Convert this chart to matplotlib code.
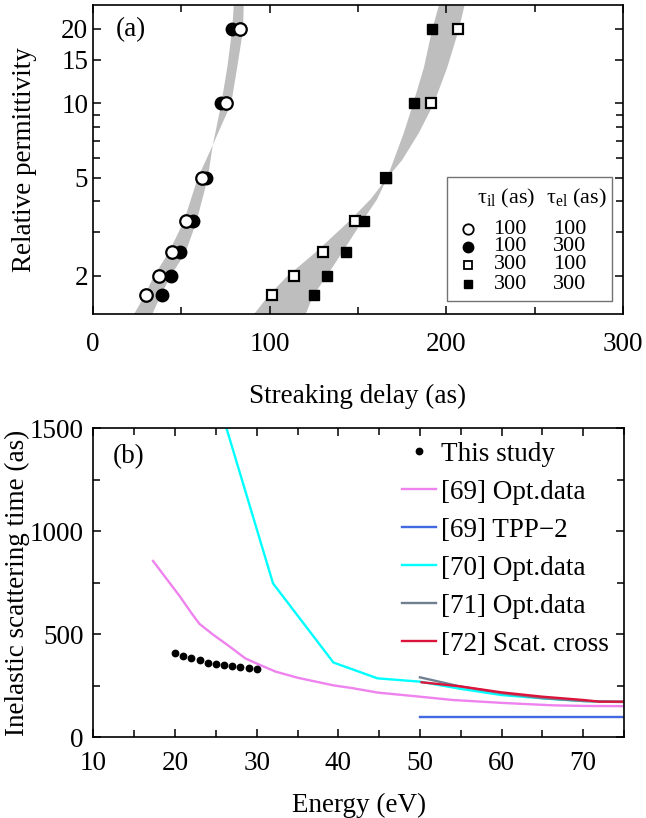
import matplotlib
matplotlib.use("Agg")
import matplotlib.pyplot as plt
import numpy as np
from matplotlib.patches import Rectangle
from matplotlib.ticker import FixedLocator, LogLocator, NullFormatter, FixedFormatter

plt.rcParams["font.family"] = ["Liberation Serif", "DejaVu Serif"]
plt.rcParams["mathtext.fontset"] = "custom"
plt.rcParams["mathtext.rm"] = "Liberation Serif"
plt.rcParams["mathtext.it"] = "Liberation Serif:italic"

# ---------------------------------------------------------------- panel (a) data
eps = [20, 10, 5, 10 / 3, 2.5, 2, 5 / 3]
delay_c_100_100 = [83.2, 75.3, 61.5, 52.6, 44.9, 37.5, 30.0]
delay_c_100_300 = [78.5, 72.3, 64.0, 56.4, 49.4, 44.1, 39.1]
delay_s_300_100 = [206.4, 191.4, 165.8, 148.3, 130.4, 113.9, 101.1]
delay_s_300_300 = [192.1, 181.8, 165.8, 153.4, 143.0, 132.6, 125.1]

# grey bands: edges of the spread between the two model curves
band_c_eps = [1.4, 5 / 3, 2, 2.5, 10 / 3, 5, 5.9, 6.8, 7.9, 10, 14, 20, 25]
band_c_x1 = [22.8, 28.9, 34.1, 42.6, 51.1, 59.0, 63.6, 67.5, 71.5, 77.9, 81.3, 84.7, 85.0]
band_c_x2 = [33.2, 37.9, 43.6, 52.1, 58.3, 64.7, 66.2, 67.5, 69.4, 72.3, 75.7, 78.5, 79.4]
band_s_eps = [1.4, 5 / 3, 2, 2.5, 10 / 3, 4.1, 5, 5.9, 7.6, 10, 14, 20, 25]
band_s_x1 = [90.7, 99.0, 109.6, 125.7, 144.5, 156.8, 166.2, 174.6, 184.1, 192.6, 200.2, 206.8, 210.0]
band_s_x2 = [120.0, 124.3, 131.9, 140.8, 152.0, 160.5, 166.2, 169.9, 175.6, 180.9, 187.0, 191.7, 195.5]

leg_il = ["100", "100", "300", "300"]
leg_el = ["100", "300", "100", "300"]

# ---------------------------------------------------------------- panel (b) data
E_this = [20, 21, 22, 23, 24, 25, 26, 27, 28, 29, 30]
tau_this = [408, 395, 386, 374, 362, 356, 350, 345, 341, 338, 332]

E_69opt = [17.3, 18.9, 20.6, 22.0, 23.0, 24.7, 26.7, 28.6, 30.4, 32.3, 35.0,
           39.4, 41.8, 44.8, 50, 54, 60, 66.3, 70.2, 75]
tau_69opt = [856, 772, 683, 603, 550, 497, 440, 383, 351, 319, 289,
             252, 238, 217, 197, 181, 167, 155, 152, 151]

E_69tpp = [50, 75]
tau_69tpp = [100, 100]

E_70opt = [26.3, 32.0, 39.4, 44.8, 50, 55, 60, 66, 70, 75]
tau_70opt = [1500, 747, 363, 286, 270, 235, 205, 186, 176, 172]

E_71opt = [50, 55, 60, 65, 70, 72, 75]
tau_71opt = [291, 246, 214, 190, 176, 173, 171]

E_72sc = [50.2, 55, 60, 65, 70, 72, 75]
tau_72sc = [267, 247, 218, 197, 181, 173, 173]

BAND = "#bebebe"
FS = 19.5

fig = plt.figure(figsize=(6.46, 8.18), dpi=100)
ax1 = fig.add_axes([0.144, 0.6161, 0.8204, 0.3778])
ax2 = fig.add_axes([0.1447, 0.0987, 0.8212, 0.3777])

for ax in (ax1, ax2):
    ax.tick_params(which="both", direction="in", top=True, right=True,
                   labelsize=FS, width=1.1)
    ax.tick_params(which="major", length=6)
    ax.tick_params(which="minor", length=5)
    for s in ax.spines.values():
        s.set_linewidth(1.2)

# ---------------------------------------------------------------- (a)
ax1.fill_betweenx(band_c_eps, band_c_x1, band_c_x2, color=BAND, lw=0, zorder=1)
ax1.fill_betweenx(band_s_eps, band_s_x1, band_s_x2, color=BAND, lw=0, zorder=1)
ax1.plot(delay_c_100_300, eps, "o", ms=9, mfc="k", mec="k", zorder=3)
ax1.plot(delay_c_100_100, eps, "o", ms=9, mfc="white", mec="k", mew=1.6, zorder=3)
ax1.plot(delay_s_300_100, eps, "s", ms=7, mfc="white", mec="k", mew=1.6, zorder=3)
ax1.plot(delay_s_300_300, eps, "s", ms=7, mfc="k", mec="k", zorder=3)

ax1.set_yscale("log")
ax1.set_xlim(0, 300)
ax1.set_ylim(1.4, 25)
ax1.xaxis.set_major_locator(FixedLocator([0, 100, 200, 300]))
ax1.xaxis.set_minor_locator(FixedLocator([50, 150, 250]))
ax1.yaxis.set_major_locator(FixedLocator([2, 5, 10, 15, 20]))
ax1.yaxis.set_major_formatter(FixedFormatter(["2", "5", "10", "15", "20"]))
ax1.yaxis.set_minor_locator(LogLocator(base=10, subs=np.arange(1, 10)))
ax1.yaxis.set_minor_formatter(NullFormatter())
ax1.tick_params(axis="x", which="both", pad=13)
ax1.tick_params(axis="y", which="both", pad=3.5)
ax1.set_xlabel("Streaking delay (as)", fontsize=FS, labelpad=19)
ax1.set_ylabel("Relative permittivity", fontsize=FS, labelpad=17)
ax1.text(0.042, 0.92, "(a)", transform=ax1.transAxes, fontsize=FS, va="center")

# hand-built legend box
ax1.add_patch(Rectangle((0.667, 0.042), 0.313, 0.402, transform=ax1.transAxes,
                        facecolor="white", edgecolor="0.45", lw=1.0, zorder=5))
ax1.text(0.78, 0.374, "τ$_{\\rm il}$ (as)", transform=ax1.transAxes,
         fontsize=16, ha="center", va="center", zorder=6)
ax1.text(0.913, 0.374, "τ$_{\\rm el}$ (as)", transform=ax1.transAxes,
         fontsize=16, ha="center", va="center", zorder=6)
leg_style = [dict(marker="o", ms=7.5, mfc="white", mec="k", mew=1.3),
             dict(marker="o", ms=7.5, mfc="k", mec="k"),
             dict(marker="s", ms=6, mfc="white", mec="k", mew=1.3),
             dict(marker="s", ms=6, mfc="k", mec="k")]
row_y = [0.274, 0.218, 0.159, 0.097]
for y, st, a, b in zip(row_y, leg_style, leg_il, leg_el):
    ax1.plot([0.708], [y], transform=ax1.transAxes, ls="none", clip_on=False,
             zorder=6, **st)
    ax1.text(0.787, y, a, transform=ax1.transAxes, fontsize=16, ha="center",
             va="center", zorder=6)
    ax1.text(0.900, y, b, transform=ax1.transAxes, fontsize=16, ha="center",
             va="center", zorder=6)

# ---------------------------------------------------------------- (b)
ax2.plot(E_this, tau_this, "o", ms=4.6, color="k", ls="none", label="This study", zorder=5)
ax2.plot(E_69opt, tau_69opt, color="#ee82ee", lw=1.7, label="[69] Opt.data")
ax2.plot(E_69tpp, tau_69tpp, color="#4169e1", lw=1.7, label="[69] TPP\u22122")
ax2.plot(E_70opt, tau_70opt, color="#00ffff", lw=1.7, label="[70] Opt.data")
ax2.plot(E_71opt, tau_71opt, color="#708090", lw=1.7, label="[71] Opt.data")
ax2.plot(E_72sc, tau_72sc, color="#dc143c", lw=1.7, label="[72] Scat. cross")

ax2.set_xlim(10, 75)
ax2.set_ylim(0, 1500)
ax2.xaxis.set_major_locator(FixedLocator([10, 20, 30, 40, 50, 60, 70]))
ax2.xaxis.set_minor_locator(FixedLocator([15, 25, 35, 45, 55, 65, 75]))
ax2.yaxis.set_major_locator(FixedLocator([0, 500, 1000, 1500]))
ax2.yaxis.set_minor_locator(FixedLocator([250, 750, 1250]))
ax2.tick_params(axis="x", which="both", pad=10)
ax2.tick_params(axis="y", which="both", pad=7)
ax2.set_xlabel("Energy (eV)", fontsize=FS, labelpad=12)
ax2.set_ylabel("Inelastic scattering time (as)", fontsize=FS, labelpad=0)
ax2.text(0.037, 0.907, "(b)", transform=ax2.transAxes, fontsize=FS, va="center")
ax2.legend(loc="upper right", frameon=False, fontsize=FS, handlelength=1.25,
           handletextpad=0.2, labelspacing=0.48, borderaxespad=0.1,
           bbox_to_anchor=(0.998, 1.0), markerscale=1.0)

fig.savefig("out.png", dpi=100)
